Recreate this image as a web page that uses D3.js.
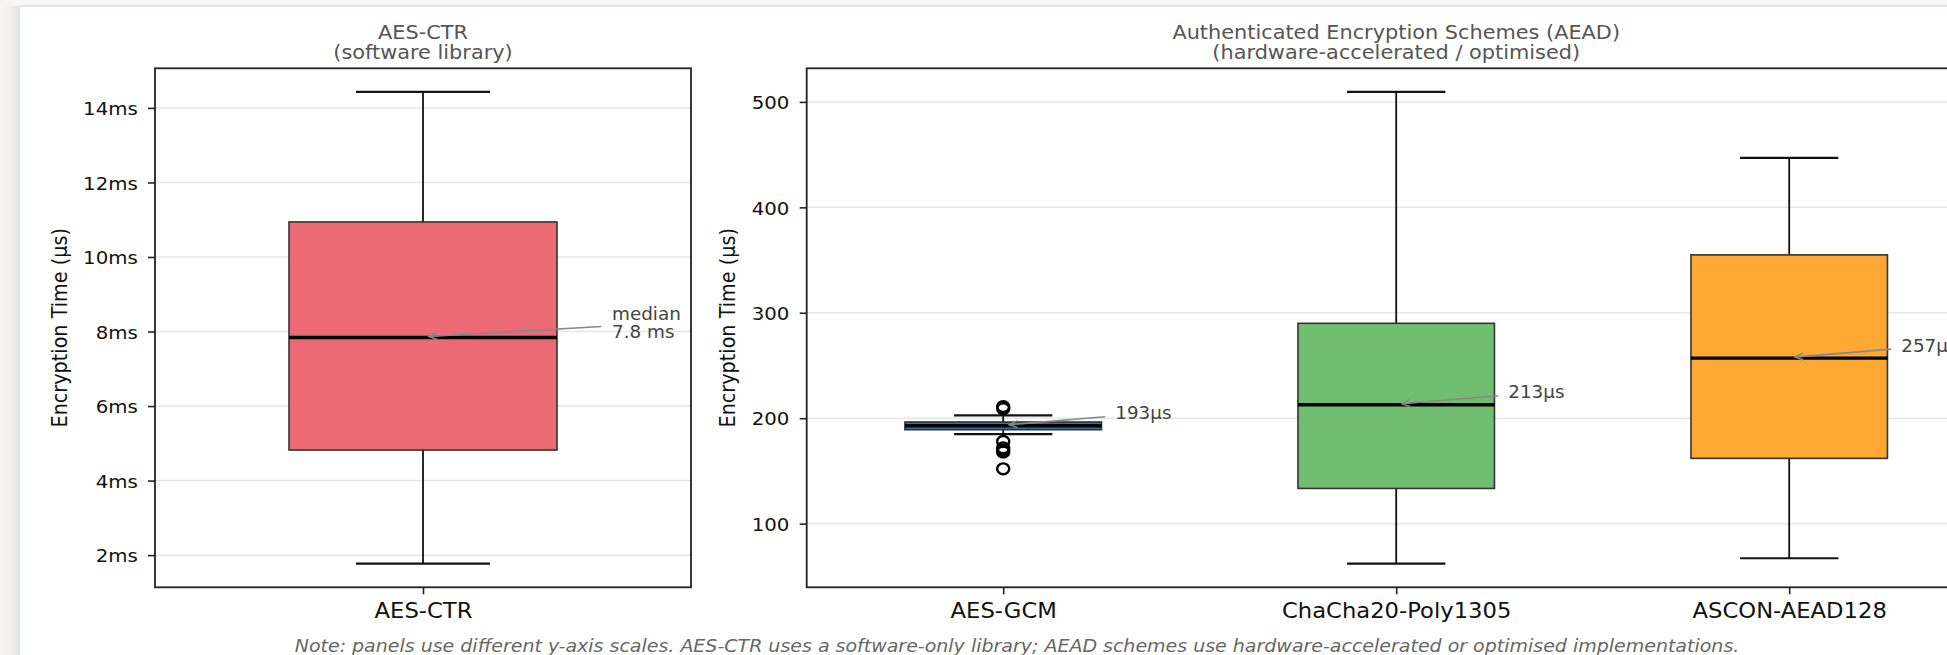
<!DOCTYPE html>
<html>
<head>
<meta charset="utf-8">
<script src="https://cdn.jsdelivr.net/npm/d3@7"></script>
<style>
  html, body { margin: 0; padding: 0; background: #f7f6f3; }
  svg { display: block; }
  text { font-family: "DejaVu Sans", sans-serif; }
</style>
</head>
<body>
<svg id="chart" width="1947" height="655"></svg>
<script>
// ---------------- data ----------------
const ctrLabels = ["AES-CTR"];
const ctrWhiskerLow = [1.77];
const ctrQ1 = [4.82];
const ctrMedian = [7.84];
const ctrQ3 = [10.94];
const ctrWhiskerHigh = [14.43];
const ctrTicks = [2, 4, 6, 8, 10, 12, 14];
const ctrMedianLabel = ["median", "7.8 ms"];

const aeadLabels = ["AES-GCM", "ChaCha20-Poly1305", "ASCON-AEAD128"];
const aeadWhiskerLow = [185.0, 62.0, 67.2];
const aeadQ1 = [189.1, 133.4, 161.9];
const aeadMedian = [192.9, 212.7, 257.0];
const aeadQ3 = [196.4, 290.0, 354.9];
const aeadWhiskerHigh = [202.7, 509.5, 446.9];
const aeadOutliers = [[211, 209, 178, 172, 170, 168, 152], [], []];
const aeadTicks = [100, 200, 300, 400, 500];

const ctrColors = ["#ec6a75"];
const aeadColors = ["#3174ad", "#70be70", "#fda832"];

const titles = [
  ["AES-CTR", "(software library)"],
  ["Authenticated Encryption Schemes (AEAD)", "(hardware-accelerated / optimised)"]
];
const yLabel = "Encryption Time (µs)";
const noteText = "Note: panels use different y-axis scales. AES-CTR uses a software-only library; AEAD schemes use hardware-accelerated or optimised implementations.";

// ---------------- layout ----------------
const SX = 1.08; // horizontal text stretch of the reference
const plotTop = 68.3, plotBottom = 587.3;
const svg = d3.select("#chart");

// page background / card
const defs = svg.append("defs");
const sh = defs.append("linearGradient").attr("id", "shadow").attr("x1", 0).attr("x2", 1);
sh.append("stop").attr("offset", 0).attr("stop-color", "#f7f6f3");
sh.append("stop").attr("offset", 0.6).attr("stop-color", "#efeeec");
sh.append("stop").attr("offset", 1).attr("stop-color", "#e4e4e4");
defs.append("marker").attr("id", "arrow").attr("viewBox", "-12 -6 14 12")
  .attr("refX", 0).attr("refY", 0).attr("markerWidth", 14).attr("markerHeight", 12)
  .attr("markerUnits", "userSpaceOnUse").attr("orient", "auto")
  .append("path").attr("d", "M-8,-3.5 L0,0 L-8,3.5").attr("fill", "none")
  .attr("stroke", "#888").attr("stroke-width", 1.5);

svg.append("rect").attr("x", 0).attr("y", 0).attr("width", 1947).attr("height", 655).attr("fill", "#f7f6f3");
svg.append("rect").attr("x", 0).attr("y", 6).attr("width", 19).attr("height", 660).attr("fill", "url(#shadow)");
svg.append("rect").attr("x", 19).attr("y", 6).attr("width", 2000).attr("height", 700)
  .attr("fill", "#ffffff").attr("stroke", "#dde6f0").attr("stroke-width", 2);

function stretchText(sel) {
  sel.each(function () {
    const t = d3.select(this);
    const x = +t.attr("x") || 0, y = +t.attr("y") || 0;
    t.attr("x", null).attr("y", null)
     .attr("transform", `translate(${x},${y}) scale(${SX},1)`);
  });
}

function panel(cfg) {
  const g = svg.append("g");
  const x = d3.scaleLinear().domain([0.5, cfg.labels.length + 0.5]).range([cfg.left, cfg.right]);
  const allVals = cfg.low.concat(cfg.high, ...(cfg.outliers || []));
  const mn = d3.min(allVals), mx = d3.max(allVals), pad = (mx - mn) * 0.05;
  const y = d3.scaleLinear().domain([mn - pad, mx + pad]).range([plotBottom, plotTop]);
  const pos = cfg.labels.map((d, i) => i + 1);

  // grid
  g.append("g").selectAll("line").data(cfg.ticks).join("line")
    .attr("x1", cfg.left).attr("x2", cfg.right)
    .attr("y1", d => y(d)).attr("y2", d => y(d))
    .attr("stroke", "#e6e6e6").attr("stroke-width", 1.5);

  // y axis
  const ya = g.append("g").attr("transform", `translate(${cfg.left},0)`)
    .call(d3.axisLeft(y).tickValues(cfg.ticks).tickFormat(cfg.fmt).tickSize(7).tickPadding(9));
  ya.select(".domain").remove();
  ya.selectAll(".tick line").attr("stroke", "#222").attr("stroke-width", 1.6);
  ya.selectAll(".tick text").attr("fill", "#111").style("font-size", "18.3px")
    .attr("dy", null).attr("dominant-baseline", "central")
    .attr("transform", `scale(${SX},1)`);

  // x axis
  const xa = g.append("g").attr("transform", `translate(0,${plotBottom})`)
    .call(d3.axisBottom(x).tickValues(pos).tickFormat((d, i) => cfg.labels[i]).tickSize(7));
  xa.select(".domain").remove();
  xa.selectAll(".tick line").attr("stroke", "#222").attr("stroke-width", 1.6);
  xa.selectAll(".tick text").attr("fill", "#111").style("font-size", "21px")
    .attr("dy", null).attr("y", 30.5);
  stretchText(xa.selectAll(".tick text"));

  // boxes
  const bw = 0.25, cw = 0.125;
  const b = g.append("g").selectAll("g").data(pos).join("g");
  b.append("line").attr("x1", p => x(p)).attr("x2", p => x(p))
    .attr("y1", (p, i) => y(cfg.q3[i])).attr("y2", (p, i) => y(cfg.high[i]))
    .attr("stroke", "#111").attr("stroke-width", 1.8);
  b.append("line").attr("x1", p => x(p)).attr("x2", p => x(p))
    .attr("y1", (p, i) => y(cfg.q1[i])).attr("y2", (p, i) => y(cfg.low[i]))
    .attr("stroke", "#111").attr("stroke-width", 1.8);
  b.append("line").attr("x1", p => x(p - cw)).attr("x2", p => x(p + cw))
    .attr("y1", (p, i) => y(cfg.high[i])).attr("y2", (p, i) => y(cfg.high[i]))
    .attr("stroke", "#111").attr("stroke-width", 2.2);
  b.append("line").attr("x1", p => x(p - cw)).attr("x2", p => x(p + cw))
    .attr("y1", (p, i) => y(cfg.low[i])).attr("y2", (p, i) => y(cfg.low[i]))
    .attr("stroke", "#111").attr("stroke-width", 2.2);
  b.append("rect").attr("x", p => x(p - bw)).attr("width", p => x(p + bw) - x(p - bw))
    .attr("y", (p, i) => y(cfg.q3[i])).attr("height", (p, i) => y(cfg.q1[i]) - y(cfg.q3[i]))
    .attr("fill", (p, i) => cfg.colors[i]).attr("stroke", "#333").attr("stroke-width", 1.6);
  b.append("line").attr("x1", p => x(p - bw)).attr("x2", p => x(p + bw))
    .attr("y1", (p, i) => y(cfg.median[i])).attr("y2", (p, i) => y(cfg.median[i]))
    .attr("stroke", "#000").attr("stroke-width", 3.4);

  // outliers
  if (cfg.outliers) {
    cfg.outliers.forEach((arr, i) => {
      g.append("g").selectAll("ellipse").data(arr).join("ellipse")
        .attr("cx", x(pos[i])).attr("cy", d => y(d))
        .attr("rx", 5.6 * SX).attr("ry", 5.4)
        .attr("fill", "none").attr("stroke", "#000").attr("stroke-width", 2.4);
    });
  }

  // frame
  g.append("rect").attr("x", cfg.left).attr("y", plotTop)
    .attr("width", cfg.right - cfg.left).attr("height", plotBottom - plotTop)
    .attr("fill", "none").attr("stroke", "#222").attr("stroke-width", 1.8);

  // title
  const cx = (cfg.left + cfg.right) / 2;
  const tt = g.append("g").selectAll("text").data(cfg.title).join("text")
    .attr("x", cx).attr("y", (d, i) => 38.7 + i * 20.3)
    .attr("text-anchor", "middle").attr("fill", "#555").style("font-size", "19.3px")
    .text(d => d);
  stretchText(tt);

  // y label
  g.append("text")
    .attr("transform", `translate(${cfg.ylabelX},${(plotTop + plotBottom) / 2}) scale(${SX},1) rotate(-90)`)
    .attr("text-anchor", "middle").attr("fill", "#111").style("font-size", "19.2px")
    .text(yLabel);

  // median annotations
  pos.forEach((p, i) => {
    const mx0 = x(p), my0 = y(cfg.median[i]);
    const a = cfg.annot;
    g.append("line")
      .attr("x1", mx0 + a.sx).attr("y1", my0 + a.sy)
      .attr("x2", mx0 + 6).attr("y2", my0 - 1)
      .attr("stroke", "#888").attr("stroke-width", 1.6).attr("marker-end", "url(#arrow)");
    const lines = cfg.annotText(i);
    const at = g.append("g").selectAll("text").data(lines).join("text")
      .attr("x", mx0 + a.tx).attr("y", (d, k) => my0 + a.ty + k * 18)
      .attr("fill", "#444").style("font-size", "17px").text(d => d);
    stretchText(at);
  });
  return g;
}

panel({
  labels: ctrLabels, low: ctrWhiskerLow, q1: ctrQ1, median: ctrMedian, q3: ctrQ3, high: ctrWhiskerHigh,
  ticks: ctrTicks, fmt: d => d + "ms", colors: ctrColors, left: 155, right: 691,
  title: titles[0], ylabelX: 66.5,
  annot: { sx: 178.5, sy: -11, tx: 189, ty: -17 },
  annotText: () => ctrMedianLabel
});

panel({
  labels: aeadLabels, low: aeadWhiskerLow, q1: aeadQ1, median: aeadMedian, q3: aeadQ3, high: aeadWhiskerHigh,
  outliers: aeadOutliers,
  ticks: aeadTicks, fmt: d => String(d), colors: aeadColors, left: 806.7, right: 1985.7,
  title: titles[1], ylabelX: 735,
  annot: { sx: 102, sy: -9, tx: 112, ty: -6.5 },
  annotText: i => [Math.round(aeadMedian[i]) + "µs"]
});

// note
const note = svg.append("text").attr("x", 1017).attr("y", 652)
  .attr("text-anchor", "middle").attr("fill", "#666")
  .style("font-size", "17.6px").style("font-style", "italic").text(noteText);
stretchText(note);
</script>
</body>
</html>
